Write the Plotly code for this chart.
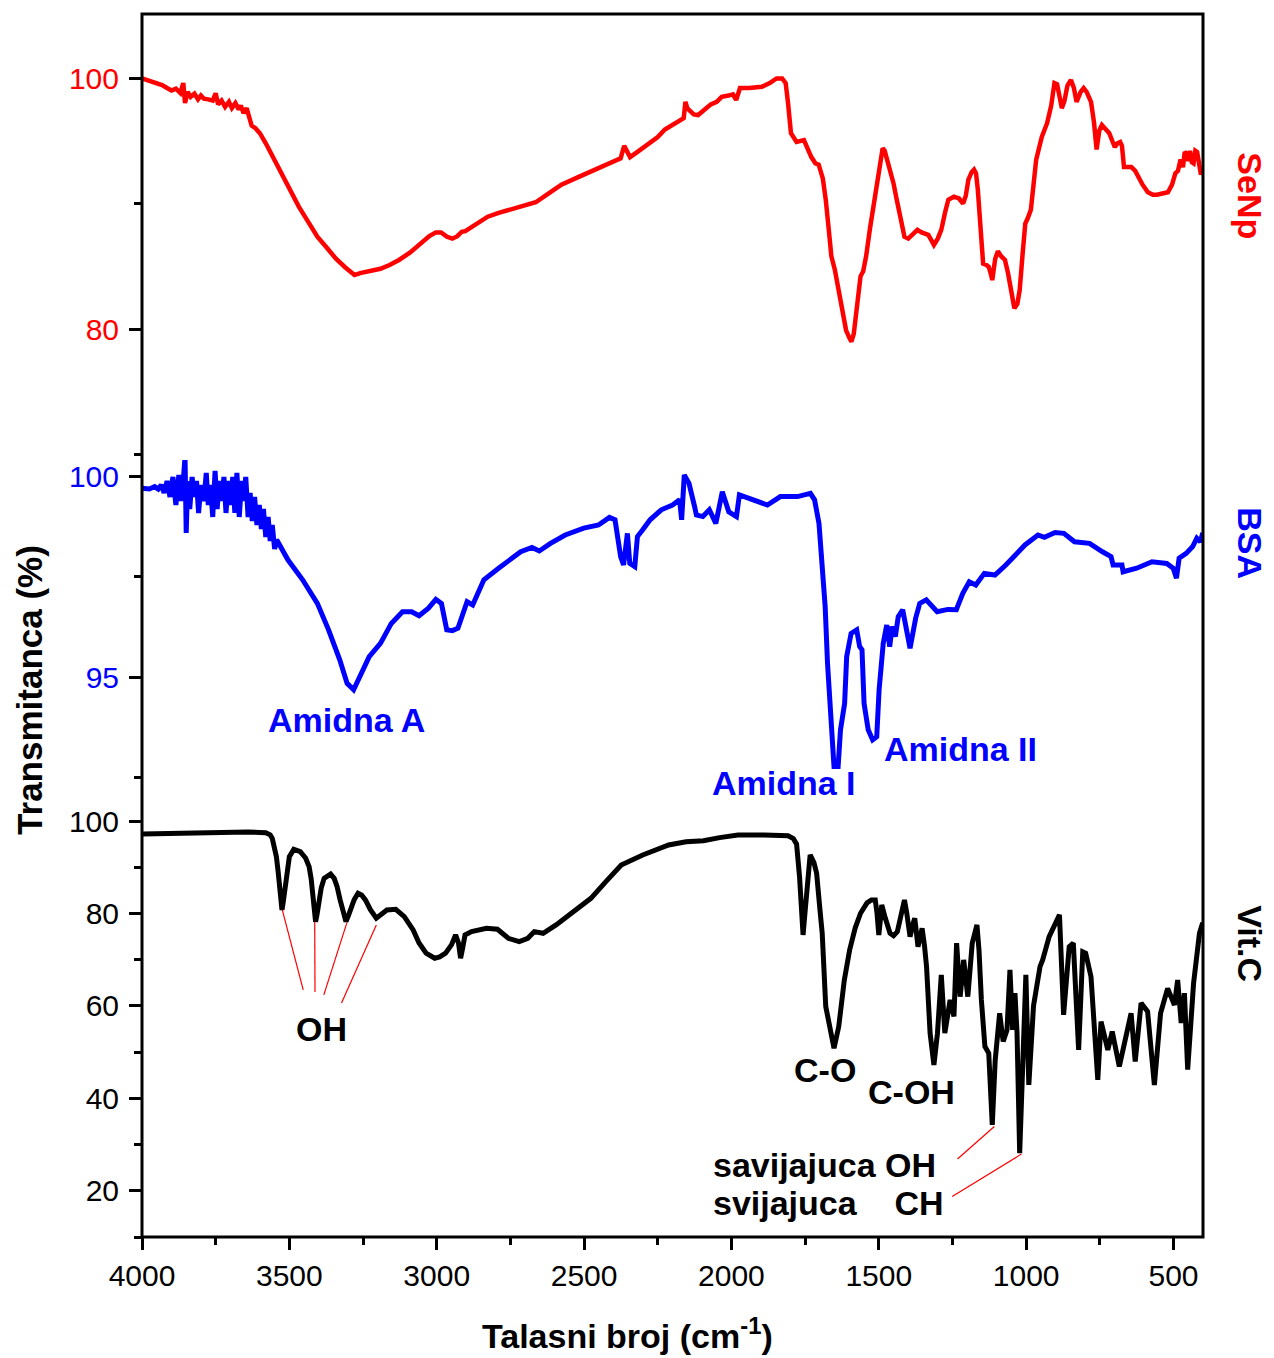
import plotly.graph_objects as go

# ---------------- FTIR spectra (wavenumber in cm-1, transmittance in %) ----------------
wn_senp = [4000, 3975, 3950, 3932, 3915, 3900, 3885, 3870, 3860, 3854, 3845, 3835, 3822, 3810,
           3800, 3790, 3775, 3760, 3750, 3742, 3730, 3718, 3705, 3695, 3683, 3672, 3665, 3655,
           3645, 3635, 3628, 3615, 3600, 3580, 3560, 3530, 3505, 3468, 3435, 3405, 3370, 3342,
           3310, 3285, 3279, 3260, 3230, 3191, 3160, 3128, 3090, 3053, 3025, 3003, 2985, 2965,
           2947, 2930, 2915, 2903, 2870, 2827, 2790, 2752, 2700, 2664, 2620, 2577, 2520, 2451,
           2410, 2376, 2364, 2355, 2344, 2320, 2276, 2250, 2226, 2200, 2176, 2162, 2156, 2150,
           2144, 2128, 2113, 2095, 2070, 2050, 2033, 2010, 1995, 1984, 1971, 1940, 1897, 1870,
           1847, 1828, 1816, 1808, 1798, 1779, 1765, 1754, 1740, 1729, 1715, 1704, 1690, 1680,
           1668, 1661, 1649, 1640, 1630, 1620, 1611, 1600, 1593, 1585, 1574, 1567, 1562, 1553,
           1543, 1530, 1518, 1505, 1495, 1487, 1480, 1469, 1460, 1450, 1440, 1431, 1420, 1413,
           1400, 1385, 1369, 1355, 1340, 1332, 1320, 1313, 1300, 1288, 1275, 1264, 1245, 1228,
           1214, 1205, 1196, 1185, 1177, 1170, 1164, 1155, 1146, 1135, 1127, 1120, 1115, 1105,
           1096, 1085, 1072, 1062, 1053, 1040, 1030, 1022, 1012, 1003, 995, 984, 975, 966, 947,
           929, 915, 904, 895, 885, 879, 870, 860, 848, 838, 829, 815, 805, 795, 780, 770, 761,
           752, 743, 730, 718, 708, 699, 690, 681, 675, 668, 655, 643, 630, 619, 605, 587, 570,
           556, 535, 519, 505, 494, 485, 476, 468, 462, 457, 450, 444, 438, 432, 426, 420, 413,
           407, 401]
t_senp = [99.98, 99.8, 99.6, 99.44, 99.2, 99.0, 99.15, 98.8, 99.6, 98.0, 98.9, 98.5, 98.75, 98.3,
          98.6, 98.35, 98.3, 98.2, 98.78, 97.9, 98.2, 97.7, 98.1, 97.6, 98.0, 97.5, 97.8, 97.2,
          97.6, 96.8, 96.2, 96.0, 95.6, 94.8, 93.9, 92.6, 91.3, 89.75, 88.5, 87.35, 86.4, 85.6,
          84.9, 84.35, 84.3, 84.45, 84.6, 84.8, 85.1, 85.5, 86.1, 86.8, 87.4, 87.7, 87.7, 87.35,
          87.2, 87.4, 87.75, 87.8, 88.3, 88.95, 89.25, 89.5, 89.8, 90.1, 90.8, 91.5, 92.1, 92.8,
          93.2, 93.6, 94.6, 94.1, 93.7, 94.1, 94.8, 95.3, 95.9, 96.3, 96.65, 96.8, 98.1, 97.6,
          97.45, 97.1, 97.05, 97.4, 97.9, 98.1, 98.5, 98.6, 98.7, 98.25, 99.2, 99.2, 99.3, 99.6,
          99.97, 99.97, 99.6, 98.0, 95.6, 94.9, 95.0, 95.05, 94.3, 93.7, 93.2, 93.1, 92.0, 90.3,
          87.5, 85.8, 84.7, 83.6, 82.3, 80.9, 79.9, 79.3, 79.0, 79.6, 81.5, 83.0, 84.2, 84.6,
          85.8, 88.0, 89.75, 91.8, 93.5, 94.4, 94.2, 93.2, 92.6, 91.6, 90.4, 89.5, 88.3, 87.35,
          87.2, 87.6, 87.9, 87.7, 87.6, 87.5, 87.0, 86.7, 87.2, 87.9, 89.3, 90.3, 90.55, 90.4,
          90.0, 90.6, 91.9, 92.5, 92.7, 92.4, 91.1, 88.0, 85.2, 85.1, 84.95, 84.4, 83.9, 85.6,
          86.2, 85.8, 85.5, 84.5, 83.1, 81.65, 82.0, 83.1, 86.0, 88.4, 88.8, 89.5, 91.5, 93.5, 95.3,
          96.4, 97.8, 99.6, 99.5, 98.2, 97.6, 98.2, 99.4, 99.84, 99.2, 98.1, 98.9, 99.2, 98.9,
          98.1, 96.5, 94.3, 95.8, 96.25, 95.9, 95.6, 95.0, 94.5, 94.8, 94.9, 94.6, 92.9, 92.9,
          92.9, 92.6, 92.1, 91.5, 90.9, 90.7, 90.7, 90.8, 90.9, 91.5, 92.4, 92.6, 93.5, 92.9,
          94.1, 94.0, 93.4, 94.2, 93.3, 93.2, 94.2, 94.1, 93.3, 92.3, 92.8]

wn_bsa = [4000, 3975, 3957, 3945, 3935, 3925, 3915, 3905, 3895, 3885, 3875, 3868, 3860, 3854,
          3850, 3845, 3838, 3830, 3822, 3815, 3808, 3800, 3790, 3782, 3775, 3768, 3760, 3752,
          3745, 3738, 3730, 3722, 3715, 3707, 3700, 3692, 3685, 3678, 3670, 3662, 3655, 3648,
          3640, 3633, 3626, 3618, 3610, 3602, 3595, 3588, 3580, 3572, 3565, 3558, 3550, 3543,
          3505, 3455, 3405, 3367, 3329, 3304, 3282, 3254, 3229, 3191, 3154, 3116, 3085, 3060,
          3028, 3003, 2984, 2966, 2947, 2928, 2897, 2878, 2840, 2790, 2752, 2715, 2677, 2652,
          2614, 2564, 2501, 2451, 2414, 2395, 2376, 2366, 2353, 2345, 2328, 2319, 2301, 2276,
          2238, 2200, 2176, 2169, 2160, 2144, 2125, 2119, 2097, 2075, 2053, 2031, 2009, 1983,
          1973, 1922, 1878, 1834, 1776, 1732, 1718, 1703, 1696, 1682, 1674, 1660, 1652, 1638,
          1630, 1616, 1609, 1594, 1575, 1565, 1557, 1550, 1536, 1521, 1507, 1499, 1485, 1473,
          1463, 1455, 1444, 1434, 1419, 1394, 1375, 1361, 1339, 1302, 1266, 1237, 1215, 1193,
          1171, 1142, 1106, 1069, 1040, 1004, 960, 938, 902, 872, 836, 785, 741, 712, 705, 675,
          671, 625, 573, 523, 501, 490, 481, 457, 435, 421, 409, 401]
t_bsa = [99.72, 99.7, 99.76, 99.7, 99.8, 99.6, 99.9, 99.5, 100.0, 99.3, 100.05, 99.4, 99.9, 100.5,
         98.6, 99.9, 99.2, 100.0, 99.5, 99.9, 99.1, 99.8, 99.4, 100.1, 99.3, 99.8, 99.0, 100.15,
         99.2, 99.9, 99.4, 100.0, 99.1, 99.9, 99.3, 100.0, 99.1, 100.1, 99.0, 99.9, 99.4, 100.0,
         99.0, 99.6, 98.9, 99.5, 98.8, 99.3, 98.7, 99.2, 98.5, 99.0, 98.4, 98.8, 98.2, 98.43,
         97.93, 97.43, 96.84, 96.18, 95.43, 94.84, 94.68, 95.09, 95.51, 95.84, 96.34, 96.63,
         96.63, 96.53, 96.72, 96.94, 96.84, 96.18, 96.16, 96.22, 96.88, 96.8, 97.43, 97.72,
         97.93, 98.13, 98.24, 98.15, 98.34, 98.55, 98.72, 98.8, 98.99, 98.93, 98.01, 97.8,
         98.59, 97.84, 97.76, 98.51, 98.68, 98.93, 99.18, 99.3, 99.43, 98.93, 100.05, 99.84,
         99.26, 99.05, 99.01, 99.18, 98.84, 99.63, 99.13, 99.01, 99.55, 99.43, 99.3, 99.51,
         99.51, 99.59, 99.43, 98.84, 98.18, 96.76, 95.34, 93.84, 92.76, 92.76, 93.68, 94.34,
         95.51, 96.09, 96.18, 95.76, 95.68, 94.34, 93.68, 93.43, 93.51, 94.68, 95.84, 96.3,
         95.76, 96.26, 96.01, 96.51, 96.68, 95.72, 96.47, 96.84, 96.93, 96.63, 96.69, 96.68,
         97.09, 97.38, 97.3, 97.59, 97.55, 97.8, 98.01, 98.3, 98.55, 98.49, 98.61, 98.59,
         98.38, 98.34, 98.13, 98.01, 97.8, 97.8, 97.63, 97.72, 97.88, 97.84, 97.72, 97.47,
         97.97, 98.09, 98.26, 98.47, 98.38, 98.6]

wn_vitc = [4000, 3930, 3860, 3780, 3713, 3640, 3580, 3565, 3558, 3550, 3544, 3538, 3533, 3528,
           3525, 3520, 3514, 3507, 3500, 3485, 3463, 3445, 3433, 3426, 3421, 3415, 3411, 3406,
           3401, 3392, 3382, 3360, 3348, 3338, 3328, 3318, 3308, 3300, 3294, 3280, 3267, 3255,
           3242, 3225, 3205, 3190, 3169, 3139, 3110, 3080, 3060, 3036, 3007, 2990, 2970, 2950,
           2936, 2926, 2919, 2912, 2904, 2882, 2831, 2794, 2757, 2720, 2691, 2669, 2655, 2639,
           2595, 2536, 2477, 2426, 2374, 2301, 2213, 2154, 2095, 2040, 1978, 1889, 1808, 1790,
           1779, 1769, 1762, 1757, 1750, 1742, 1733, 1720, 1711, 1700, 1692, 1680, 1661, 1652,
           1636, 1617, 1599, 1580, 1562, 1540, 1525, 1512, 1506, 1500, 1494, 1490, 1478, 1462,
           1450, 1437, 1425, 1413, 1405, 1394, 1385, 1378, 1367, 1360, 1353, 1345, 1338, 1326,
           1313, 1301, 1288, 1276, 1258, 1245, 1236, 1224, 1212, 1198, 1183, 1167, 1160, 1152,
           1140, 1127, 1115, 1105, 1090, 1078, 1065, 1055, 1046, 1038, 1031, 1022, 1010, 1001,
           991, 975, 953, 944, 922, 887, 873, 854, 840, 822, 808, 798, 780, 757, 746, 723, 708,
           684, 644, 630, 610, 588, 565, 544, 520, 497, 486, 474, 463, 452, 432, 424, 412, 401]
t_vitc = [97.19, 97.25, 97.33, 97.5, 97.69, 97.6, 97.48, 97.0, 96.25, 94.5, 92.29, 89.0, 85.8, 82.5,
          80.76, 82.8, 85.8, 89.5, 92.28, 93.87, 93.37, 92.0, 90.12, 87.5, 84.36, 80.5, 78.23, 79.8,
          82.2, 85.5, 87.6, 88.54, 87.6, 85.8, 83.0, 80.04, 78.23, 79.5, 80.76, 83.0, 84.36, 84.0,
          82.92, 80.8, 78.96, 79.6, 80.76, 80.9, 79.31, 76.43, 73.6, 71.4, 70.31, 70.6, 71.4, 73.2,
          75.35, 73.56, 70.31, 72.5, 75.35, 76.07, 76.8, 76.58, 74.63, 73.9, 74.63, 76.07, 75.9,
          75.71, 77.51, 80.39, 83.27, 86.88, 90.49, 92.65, 94.81, 95.53, 95.75, 96.4, 96.97, 96.97,
          96.82, 96.2, 95.0, 87.96, 80.0, 75.35, 80.5, 85.08, 92.65, 91.0, 88.7, 81.0, 75.7, 59.85,
          54.1, 50.85, 55.5, 65.6, 72.1, 76.9, 80.04, 82.3, 82.92, 82.92, 80.0, 75.35, 79.0, 81.84,
          79.0, 75.72, 75.2, 76.07, 79.5, 82.92, 80.0, 74.99, 77.5, 78.96, 72.82, 75.5, 76.8, 73.0,
          68.5, 54.1, 47.24, 54.1, 66.7, 54.1, 61.3, 57.7, 73.56, 62.0, 69.95, 62.0, 73.56, 77.51,
          72.0, 61.3, 51.2, 49.77, 34.27, 48.3, 58.4, 52.3, 54.8, 67.8, 54.8, 62.75, 54.1, 28.15,
          54.1, 66.7, 42.9, 60.0, 68.5, 69.95, 75.0, 79.7, 58.05, 72.8, 73.56, 50.5, 71.7, 71.4,
          66.3, 44.0, 56.6, 50.5, 54.45, 46.9, 58.4, 47.96, 60.6, 58.8, 42.9, 58.4, 63.8, 60.2,
          65.6, 56.3, 62.75, 46.2, 64.9, 69.2, 75.7, 78.0]

series_names = ["Vit.C", "BSA", "SeNp"]
series_colors = ["#000000", "#0000ff", "#ff0000"]

FONT = "Liberation Sans, Arial, sans-serif"

fig = go.Figure()
fig.add_trace(go.Scatter(x=wn_vitc, y=t_vitc, yaxis="y", mode="lines", name=series_names[0],
                         line=dict(color=series_colors[0], width=5)))
fig.add_trace(go.Scatter(x=wn_bsa, y=t_bsa, yaxis="y2", mode="lines", name=series_names[1],
                         line=dict(color=series_colors[1], width=5)))
fig.add_trace(go.Scatter(x=wn_senp, y=t_senp, yaxis="y3", mode="lines", name=series_names[2],
                         line=dict(color=series_colors[2], width=4.5)))

tick_common = dict(ticks="outside", ticklen=12, tickwidth=3, tickcolor="black",
                   showgrid=False, zeroline=False, showline=False)


def yax(domain, rng, dtick, minor_dtick, color):
    return dict(domain=domain, range=rng, dtick=dtick, tick0=0, anchor="x",
                ticklabelstandoff=4,
                tickfont=dict(family=FONT, size=30, color=color),
                minor=dict(dtick=minor_dtick, tick0=0, ticks="outside", ticklen=7,
                           tickwidth=3, tickcolor="black", showgrid=False),
                **tick_common)


fig.update_layout(
    width=1274, height=1358,
    margin=dict(l=142, r=71, t=14, b=121),
    paper_bgcolor="white", plot_bgcolor="white",
    showlegend=False,
    xaxis=dict(range=[4000, 400], dtick=500, tick0=0, anchor="y",
               tickfont=dict(family=FONT, size=30, color="black"),
               minor=dict(dtick=250, tick0=0, ticks="outside", ticklen=7, tickwidth=3,
                          tickcolor="black", showgrid=False),
               **tick_common),
    yaxis=yax([0, 0.3573], [10, 104.54], 20, 10, series_colors[0]),
    yaxis2=yax([0.3573, 0.6517], [91.925, 100.925], 5, 2.5, series_colors[1]),
    yaxis3=yax([0.6353, 1], [69.562, 105.10], 20, 10, series_colors[2]),
)

# plot frame
fig.add_shape(type="rect", xref="paper", yref="paper", x0=0, y0=0, x1=1, y1=1,
              line=dict(color="black", width=3), layer="above")

# red leader lines to the labelled Vit.C bands
leaders = [
    (3524, 80.76, 3453, 63.46),
    (3414, 78.16, 3413, 63.03),
    (3305, 77.95, 3383, 62.38),
    (3205, 77.51, 3323, 60.65),
    (1108, 33.9, 1233, 26.86),
    (1016, 27.94, 1251, 18.77),
]
for x0, y0, x1, y1 in leaders:
    fig.add_shape(type="line", xref="x", yref="y", x0=x0, y0=y0, x1=x1, y1=y1,
                  line=dict(color="#ff0000", width=1.2))


def label(text, x, y, yref, color, xanchor="center", size=34):
    fig.add_annotation(text=text, x=x, y=y, xref="x", yref=yref, showarrow=False,
                       xanchor=xanchor, yanchor="middle",
                       font=dict(family=FONT, size=size, color=color, weight="bold"))


# band assignments
label("Amidna A", 3305, 93.925, "y2", "#0000ff")
label("Amidna I", 1820, 92.35, "y2", "#0000ff")
label("Amidna II", 1223, 93.2, "y2", "#0000ff")
label("OH", 3391, 55.03, "y", "black")
label("C-O", 1682, 46.16, "y", "black")
label("C-OH", 1389, 41.4, "y", "black")
label("savijajuca OH", 2071, 25.62, "y", "black", xanchor="left")
label("svijajuca\u00a0\u00a0\u00a0 CH", 2071, 17.4, "y", "black", xanchor="left")

# series names on the right
for name, color, ypos in [("SeNp", series_colors[2], 0.8512),
                          ("BSA", series_colors[1], 0.5675),
                          ("Vit.C", series_colors[0], 0.2396)]:
    fig.add_annotation(text=name, x=1.044, y=ypos, xref="paper", yref="paper",
                       showarrow=False, textangle=90, xanchor="center", yanchor="middle",
                       font=dict(family=FONT, size=34, color=color, weight="bold"))

# axis titles
fig.add_annotation(text="Transmitanca (%)", x=-0.1056, y=0.4473, xref="paper", yref="paper",
                   showarrow=False, textangle=-90, xanchor="center", yanchor="middle",
                   font=dict(family=FONT, size=35, color="black", weight="bold"))
fig.add_annotation(text="Talasni broj (cm<sup>-1</sup>)", x=0.4576, y=-0.0785,
                   xref="paper", yref="paper", showarrow=False,
                   xanchor="center", yanchor="middle",
                   font=dict(family=FONT, size=34, color="black", weight="bold"))

fig.write_html("out.html")
